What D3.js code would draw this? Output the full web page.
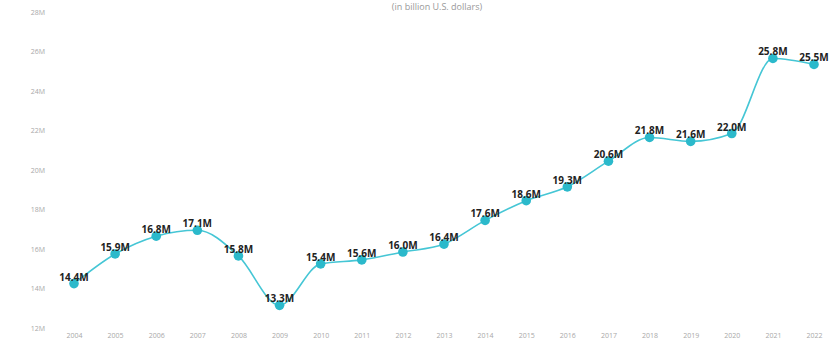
<!DOCTYPE html>
<html>
<head>
<meta charset="utf-8">
<script src="https://cdn.jsdelivr.net/npm/d3@7"></script>
<style>
  html, body { margin: 0; padding: 0; background: #fff; }
  svg { display: block; }
</style>
</head>
<body>
<svg id="chart" width="831" height="346"></svg>
<script>
const years = ["2004","2005","2006","2007","2008","2009","2010","2011","2012","2013","2014","2015","2016","2017","2018","2019","2020","2021","2022"];
const values = [14.4, 15.9, 16.8, 17.1, 15.8, 13.3, 15.4, 15.6, 16.0, 16.4, 17.6, 18.6, 19.3, 20.6, 21.8, 21.6, 22.0, 25.8, 25.5];
const yTicks = [12, 14, 16, 18, 20, 22, 24, 26, 28];
const subtitle = "(in billion U.S. dollars)";

const svg = d3.select("#chart");
const x = d3.scalePoint().domain(years).range([74, 814]);
const y = d3.scaleLinear().domain([12, 28]).range([331, 15]);

const lineColor = "#45c6d5";
const dotColor = "#2bb9cb";

// subtitle
svg.append("text")
  .attr("x", 437).attr("y", 10)
  .attr("text-anchor", "middle")
  .attr("font-family", "Open Sans, sans-serif")
  .attr("font-size", 9)
  .attr("fill", "#999")
  .text(subtitle);

// y axis
const yAxis = d3.axisLeft(y).tickValues(yTicks).tickFormat(d => d + "M").tickSize(0).tickPadding(0);
const gy = svg.append("g").attr("transform", "translate(45,0)").call(yAxis);
gy.select(".domain").remove();
gy.selectAll("text")
  .attr("font-family", "Open Sans, sans-serif")
  .attr("font-size", 7)
  .attr("fill", "#a8a8a8")
  .attr("dy", "-0.1em");

// x axis
const xAxis = d3.axisBottom(x).tickSize(0).tickPadding(0);
const gx = svg.append("g").attr("transform", "translate(0,334)").call(xAxis);
gx.select(".domain").remove();
gx.selectAll("text")
  .attr("font-family", "Open Sans, sans-serif")
  .attr("font-size", 7)
  .attr("fill", "#a8a8a8")
  .attr("dy", "0.6em");

const data = years.map((yr, i) => ({ yr, v: values[i] }));

svg.append("path")
  .datum(data)
  .attr("fill", "none")
  .attr("stroke", lineColor)
  .attr("stroke-width", 1.6)
  .attr("d", d3.line().x(d => x(d.yr)).y(d => y(d.v)).curve(d3.curveMonotoneX));

svg.selectAll("circle.dot")
  .data(data)
  .enter().append("circle")
  .attr("class", "dot")
  .attr("cx", d => x(d.yr))
  .attr("cy", d => y(d.v))
  .attr("r", 4.8)
  .attr("fill", dotColor);

svg.selectAll("text.lbl")
  .data(data)
  .enter().append("text")
  .attr("class", "lbl")
  .attr("x", d => x(d.yr))
  .attr("y", d => y(d.v) - 3)
  .attr("text-anchor", "middle")
  .attr("font-family", "Open Sans, sans-serif")
  .attr("font-weight", "bold")
  .attr("font-size", 10)
  .attr("fill", "#222")
  .text(d => d.v.toFixed(1) + "M");
</script>
</body>
</html>
